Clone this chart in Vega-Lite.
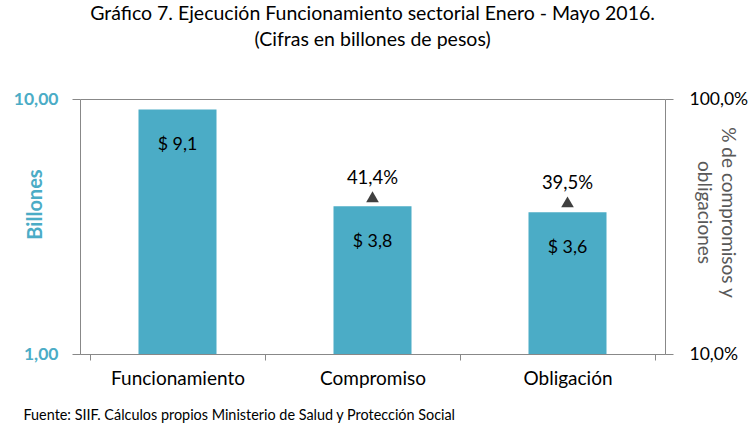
{
  "$schema": "https://vega.github.io/schema/vega-lite/v6.json",
  "width": 585,
  "height": 255,
  "autosize": {"type": "none"},
  "padding": {"left": 80, "top": 99, "right": 86, "bottom": 84},
  "config": {
    "locale": {"number": {"decimal": ",", "thousands": ".", "grouping": [3], "currency": ["$ ", ""]}},
    "font": "Lato",
    "view": {"stroke": null}
  },
  "title": {
    "text": "Gráfico 7. Ejecución Funcionamiento sectorial Enero - Mayo 2016.",
    "subtitle": "(Cifras en billones de pesos)",
    "fontSize": 19.5,
    "fontWeight": "normal",
    "subtitleFontSize": 19.5,
    "color": "#000000",
    "subtitleColor": "#000000",
    "offset": 40,
    "anchor": "middle",
    "subtitlePadding": 6
  },
  "data": {
    "values": [
      {"cat": "Funcionamiento", "valor": 9.1},
      {"cat": "Compromiso", "valor": 3.8, "pct": 0.414},
      {"cat": "Obligación", "valor": 3.6, "pct": 0.395}
    ]
  },
  "encoding": {
    "x": {
      "field": "cat",
      "type": "nominal",
      "sort": null,
      "axis": {
        "title": "Fuente: SIIF. Cálculos propios Ministerio de Salud y Protección Social",
        "titleX": -57,
        "titleY": 61,
        "titleAlign": "left",
        "titleBaseline": "middle",
        "titleFontSize": 14.4,
        "titleFontWeight": "normal",
        "titleColor": "#000000",
        "labelAngle": 0,
        "labelFontSize": 19,
        "labelColor": "#000000",
        "labelPadding": 9,
        "tickBand": "extent",
        "tickSize": 6,
        "tickColor": "#888888",
        "domainColor": "#888888"
      }
    }
  },
  "layer": [
    {
      "encoding": {
        "y": {
          "field": "valor",
          "type": "quantitative",
          "scale": {"type": "log", "domain": [1, 10]},
          "axis": {
            "values": [1, 10],
            "format": ".2f",
            "labelColor": "#4BACC6",
            "labelFontWeight": "bold",
            "labelFontSize": 17.5,
            "labelPadding": 14,
            "tickSize": 8,
            "tickColor": "#888888",
            "domainColor": "#888888",
            "grid": true,
            "gridColor": "#888888",
            "title": "Billones",
            "titleColor": "#4BACC6",
            "titleFontSize": 20,
            "titleFontWeight": "bold",
            "titleX": -45,
            "titleY": 105,
            "titleAlign": "center",
            "titleBaseline": "middle"
          }
        },
        "x": {"field": "cat", "type": "nominal", "sort": null}
      },
      "layer": [
        {
          "mark": {"type": "bar", "color": "#4BACC6", "size": 78},
          "encoding": {"y2": {"datum": 1}}
        },
        {
          "mark": {"type": "text", "dy": 36, "fontSize": 17.8, "color": "#000000"},
          "encoding": {"text": {"field": "valor", "type": "quantitative", "format": "$.1f"}}
        }
      ]
    },
    {
      "transform": [{"filter": "isValid(datum.pct)"}],
      "encoding": {
        "y": {
          "field": "pct",
          "type": "quantitative",
          "scale": {"type": "log", "domain": [0.1, 1]},
          "axis": {
            "orient": "right",
            "values": [0.1, 1],
            "format": ".1%",
            "labelColor": "#000000",
            "labelFontSize": 17.5,
            "labelPadding": 16,
            "tickSize": 8,
            "tickColor": "#888888",
            "domainColor": "#888888",
            "grid": false,
            "title": ["% de compromisos y", "obligaciones"],
            "titleColor": "#595959",
            "titleFontSize": 19,
            "titleFontWeight": "normal",
            "titleLineHeight": 24,
            "titleAngle": 90,
            "titleX": 62,
            "titleY": 113,
            "titleAlign": "center",
            "titleBaseline": "middle"
          }
        },
        "x": {"field": "cat", "type": "nominal", "sort": null}
      },
      "layer": [
        {"mark": {"type": "point", "shape": "triangle-up", "filled": true, "color": "#404040", "opacity": 1, "size": 160}},
        {
          "mark": {"type": "text", "dy": -19, "fontSize": 18.5, "color": "#000000"},
          "encoding": {"text": {"field": "pct", "type": "quantitative", "format": ".1%"}}
        }
      ]
    }
  ],
  "resolve": {"scale": {"y": "independent"}}
}
